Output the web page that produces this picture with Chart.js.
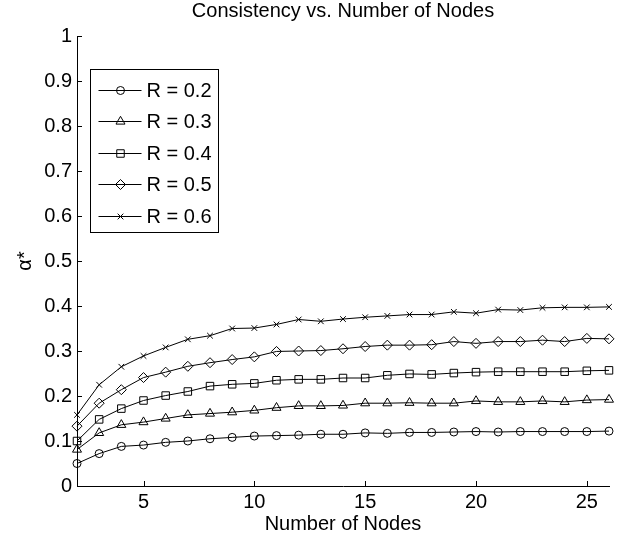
<!DOCTYPE html>
<html>
<head>
<meta charset="utf-8">
<script src="https://cdn.jsdelivr.net/npm/chart.js@4"></script>
<style>
  html, body { margin: 0; padding: 0; background: #fff; }
  #wrap { width: 633px; height: 539px; }
</style>
</head>
<body>
<div id="wrap"><canvas id="chart" width="633" height="539"></canvas></div>
<script>
const nodes = [2, 3, 4, 5, 6, 7, 8, 9, 10, 11, 12, 13, 14, 15, 16, 17, 18, 19, 20, 21, 22, 23, 24, 25, 26];

const r02 = [0.050, 0.072, 0.088, 0.091, 0.097, 0.100, 0.105, 0.108, 0.111, 0.112, 0.113, 0.115, 0.115,
             0.118, 0.117, 0.119, 0.119, 0.120, 0.121, 0.120, 0.121, 0.121, 0.121, 0.121, 0.122];
const r03 = [0.081, 0.118, 0.136, 0.142, 0.150, 0.158, 0.161, 0.164, 0.168, 0.174, 0.178, 0.178, 0.179,
             0.184, 0.184, 0.185, 0.184, 0.184, 0.189, 0.187, 0.187, 0.189, 0.187, 0.191, 0.192];
const r04 = [0.100, 0.148, 0.172, 0.190, 0.201, 0.210, 0.222, 0.226, 0.228, 0.235, 0.237, 0.237, 0.240,
             0.240, 0.246, 0.249, 0.248, 0.251, 0.253, 0.254, 0.254, 0.254, 0.254, 0.256, 0.257];
const r05 = [0.133, 0.184, 0.214, 0.241, 0.253, 0.266, 0.274, 0.281, 0.287, 0.299, 0.300, 0.301, 0.305,
             0.310, 0.313, 0.313, 0.314, 0.321, 0.317, 0.321, 0.321, 0.324, 0.321, 0.328, 0.327];
const r06 = [0.158, 0.225, 0.265, 0.289, 0.308, 0.326, 0.334, 0.350, 0.351, 0.359, 0.370, 0.366, 0.371,
             0.375, 0.378, 0.381, 0.381, 0.387, 0.384, 0.392, 0.391, 0.396, 0.397, 0.397, 0.398];

const seriesNames = ['R = 0.2', 'R = 0.3', 'R = 0.4', 'R = 0.5', 'R = 0.6'];
const seriesValues = [r02, r03, r04, r05, r06];
const markers = ['circle', 'triangle', 'rect', 'rectRot', 'crossRot'];
const markerSize = [4, 5.2, 5.3, 5, 4];

const xTicks = [5, 10, 15, 20, 25];
const yTicks = [0, 0.1, 0.2, 0.3, 0.4, 0.5, 0.6, 0.7, 0.8, 0.9, 1];

const FONT = 'Liberation Sans, Arial, Helvetica, sans-serif';

function makeDataset(i){
      return {
            label: seriesNames[i],
            data: nodes.map((n, k) => ({ x: n, y: seriesValues[i][k] })),
            borderColor: '#000',
            borderWidth: 1,
            pointStyle: markers[i],
            pointRadius: markerSize[i],
            pointBorderColor: '#000',
            pointBorderWidth: 1,
            pointBackgroundColor: 'rgba(0,0,0,0)',
            tension: 0,
            fill: false,
            clip: false,
      }
}

// MATLAB style ticks pointing into the plot
const innerTicks = {
      id: 'innerTicks',
      afterDraw(chart){
            const ctx = chart.ctx, area = chart.chartArea
            const xs = chart.scales.x, ys = chart.scales.y
            ctx.save()
            ctx.strokeStyle = '#000'
            ctx.lineWidth = 1
            ctx.beginPath()
            xs.ticks.forEach(t => {
                  const px = Math.round(xs.getPixelForValue(t.value)) + 0.5
                  ctx.moveTo(px, area.bottom)
                  ctx.lineTo(px, area.bottom - 5)
            })
            ys.ticks.forEach(t => {
                  const py = Math.round(ys.getPixelForValue(t.value)) + 0.5
                  ctx.moveTo(area.left, py)
                  ctx.lineTo(area.left + 5, py)
            })
            ctx.stroke()
            ctx.restore()
      }
}

// boxed legend: line - marker - line, then the label
const boxLegend = {
      id: 'boxLegend',
      afterDraw(chart){
            const ctx = chart.ctx, area = chart.chartArea
            const left = Math.round(area.left + 13) + 0.5
            const top = Math.round(area.top + 33) + 0.5
            const w = 128, h = 163, rowH = 31.5
            ctx.save()
            ctx.fillStyle = '#fff'
            ctx.fillRect(left, top, w, h)
            ctx.strokeStyle = '#000'
            ctx.lineWidth = 1
            ctx.strokeRect(left, top, w, h)
            ctx.font = '20px ' + FONT
            ctx.textBaseline = 'middle'
            ctx.textAlign = 'left'
            chart.data.datasets.forEach((ds, i) => {
                  const y = Math.round(top + 20 + i * rowH) + 0.5
                  ctx.beginPath()
                  ctx.moveTo(left + 8, y)
                  ctx.lineTo(left + 51, y)
                  ctx.strokeStyle = '#000'
                  ctx.stroke()
                  // hollow marker like the plotted points
                  ctx.fillStyle = 'rgba(0,0,0,0)'
                  ctx.strokeStyle = '#000'
                  Chart.helpers.drawPoint(ctx, {
                        pointStyle: ds.pointStyle,
                        radius: ds.pointRadius,
                        borderWidth: 1,
                        rotation: 0,
                  }, left + 30, y)
                  ctx.fillStyle = '#000'
                  ctx.fillText(ds.label, left + 56, y + 1)
            })
            ctx.restore()
      }
}

const axisFont = { family: FONT, size: 20, weight: 'normal' }

new Chart(document.getElementById('chart'), {
      type: 'line',
      data: { datasets: seriesValues.map((v, i) => makeDataset(i)) },
      options: {
            responsive: false,
            animation: false,
            devicePixelRatio: 1,
            layout: { padding: { left: 0, right: 24, top: 0, bottom: 0 } },
            plugins: {
                  legend: { display: false },
                  tooltip: { enabled: false },
                  title: {
                        display: true,
                        text: 'Consistency vs. Number of Nodes',
                        color: '#000',
                        fullSize: false,
                        font: { family: FONT, size: 20, weight: 'normal', lineHeight: 1 },
                        padding: { top: 1, bottom: 15 },
                  },
            },
            scales: {
                  x: {
                        type: 'linear',
                        min: 2,
                        max: 26,
                        grid: { display: false, drawTicks: false },
                        border: { display: true, color: '#000', width: 1 },
                        afterBuildTicks: (s) => { s.ticks = xTicks.map(v => ({ value: v })) },
                        afterFit: (s) => { s.height = 53 },
                        ticks: { color: '#000', font: axisFont, padding: 4, maxRotation: 0, autoSkip: false },
                        title: {
                              display: true, text: 'Number of Nodes', color: '#000',
                              font: axisFont, padding: { top: 0, bottom: 3 },
                        },
                  },
                  y: {
                        type: 'linear',
                        min: 0,
                        max: 1,
                        grid: { display: false, drawTicks: false },
                        border: { display: true, color: '#000', width: 1 },
                        afterBuildTicks: (s) => { s.ticks = yTicks.map(v => ({ value: v })) },
                        afterFit: (s) => { s.width = 77 },
                        ticks: {
                              color: '#000', font: axisFont, padding: 5, autoSkip: false,
                              callback: (v) => String(+v.toFixed(1)),
                        },
                        title: {
                              display: true, text: 'α*', color: '#000',
                              font: axisFont, padding: { top: 13, bottom: 0 },
                        },
                  },
            },
      },
      plugins: [innerTicks, boxLegend],
})
</script>
</body>
</html>
